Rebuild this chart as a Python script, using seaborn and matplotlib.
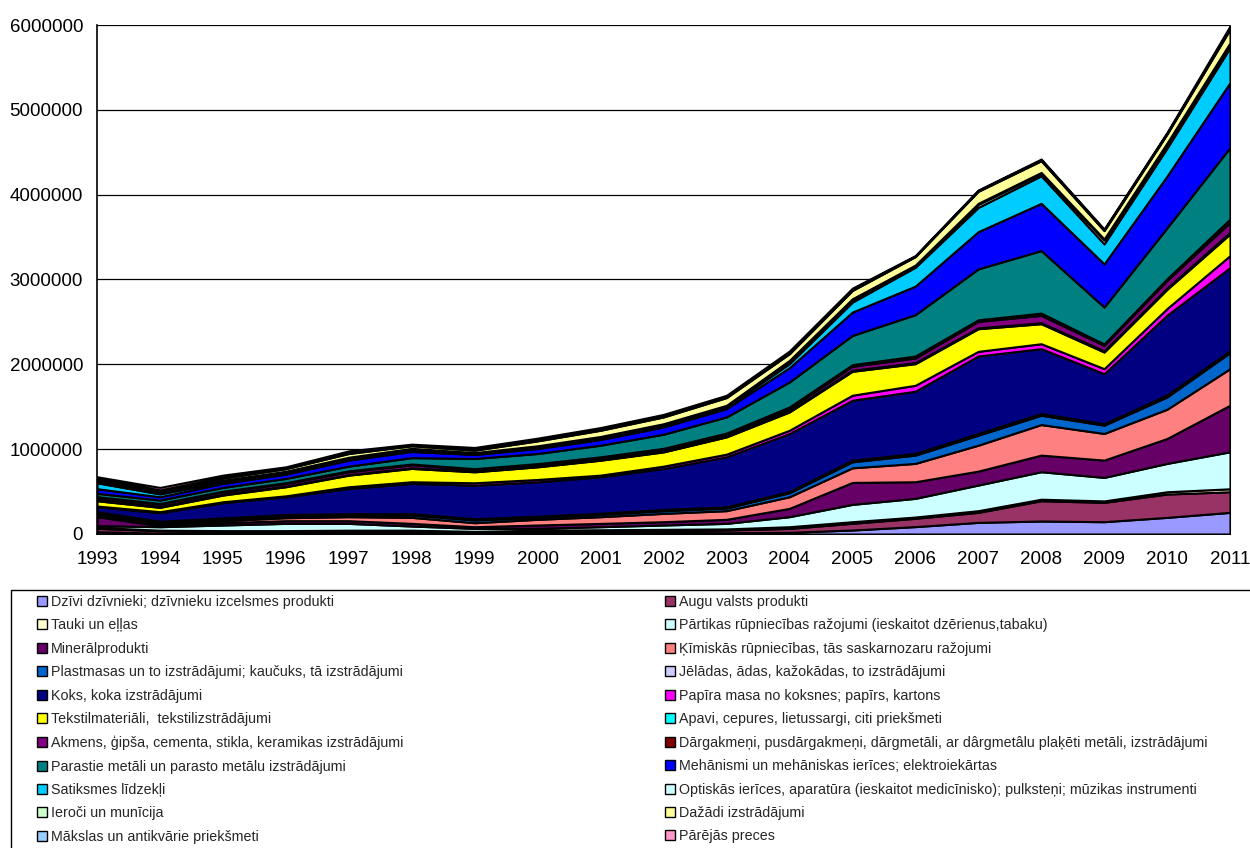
import numpy as np
import matplotlib
matplotlib.use("Agg")
import matplotlib.pyplot as plt
import matplotlib.ticker as mticker
from matplotlib.patches import Patch, Rectangle
import seaborn as sns

sns.set_style("white")
plt.rcParams['font.family'] = ['Liberation Sans', 'DejaVu Sans']

# Years on the x axis
years = list(range(1993, 2012))

# Values per product group (thousands), bottom layer first
dzivi = [27, 10, 10, 10, 10, 10, 8, 10, 10, 20, 15, 20, 47, 87, 137, 153, 145, 196, 255]
augu = [40, 29, 20, 20, 25, 25, 15, 20, 25, 20, 32, 46, 79, 98, 118, 239, 228, 275, 243]
tauki = [11, 6, 10, 10, 10, 10, 8, 15, 15, 15, 13, 20, 19, 15, 20, 18, 17, 27, 35]
partikas = [20, 41, 66, 85, 80, 49, 35, 22, 36, 51, 65, 118, 204, 220, 302, 324, 277, 334, 436]
mineral = [106, 12, 27, 32, 32, 31, 20, 39, 39, 39, 48, 98, 259, 196, 164, 196, 204, 294, 549]
kimiskas = [24, 16, 24, 35, 47, 71, 47, 67, 79, 98, 102, 137, 172, 216, 306, 360, 314, 345, 431]
plastmasas = [15, 19, 16, 20, 20, 28, 32, 23, 27, 31, 31, 47, 71, 98, 118, 110, 98, 145, 189]
jeladas = [20, 17, 17, 18, 16, 16, 15, 14, 14, 16, 14, 14, 19, 20, 20, 20, 17, 24, 22]
koks = [59, 101, 179, 209, 297, 356, 396, 405, 429, 482, 590, 684, 707, 733, 913, 765, 590, 940, 980]
papirs = [8, 12, 11, 11, 20, 20, 28, 28, 20, 28, 31, 39, 59, 70, 55, 58, 59, 78, 142]
tekstil = [62, 51, 79, 107, 137, 157, 129, 149, 176, 168, 204, 216, 282, 255, 267, 236, 196, 227, 255]
apavi = [16, 11, 11, 8, 6, 7, 7, 8, 7, 7, 10, 11, 12, 12, 10, 11, 15, 15, 20]
akmens = [24, 28, 28, 31, 34, 36, 20, 20, 21, 21, 21, 28, 47, 55, 76, 87, 64, 90, 116]
dargakmeni = [8, 7, 7, 9, 11, 9, 10, 10, 12, 14, 14, 20, 19, 23, 19, 27, 16, 20, 40]
metali = [39, 40, 44, 50, 55, 75, 120, 119, 137, 166, 190, 294, 345, 487, 600, 737, 435, 600, 843]
mehanismi = [55, 39, 47, 51, 71, 73, 47, 59, 67, 86, 98, 169, 275, 337, 439, 557, 509, 610, 765]
satiksme = [70, 33, 20, 16, 19, 23, 12, 19, 19, 20, 20, 47, 118, 223, 286, 325, 236, 330, 412]
optiskas = [14, 10, 10, 10, 8, 7, 6, 6, 7, 8, 10, 22, 21, 15, 35, 27, 45, 45, 37]
ieroci = [10, 8, 8, 8, 7, 7, 5, 7, 10, 10, 9, 17, 18, 10, 13, 12, 13, 15, 20]
dazadi = [23, 20, 26, 30, 44, 30, 28, 58, 73, 80, 91, 78, 98, 100, 142, 138, 98, 106, 159]
maksla = [9, 10, 10, 10, 11, 10, 7, 12, 12, 15, 12, 15, 14, 5, 8, 10, 9, 9, 16]
parejas = [15, 29, 24, 12, 20, 9, 25, 20, 20, 15, 15, 17, 13, 7, 7, 10, 10, 10, 23]

labels = [
    "Dzīvi dzīvnieki; dzīvnieku izcelsmes produkti",
    "Augu valsts produkti",
    "Tauki un eļļas",
    "Pārtikas rūpniecības ražojumi (ieskaitot dzērienus,tabaku)",
    "Minerālprodukti",
    "Ķīmiskās rūpniecības, tās saskarnozaru ražojumi",
    "Plastmasas un to izstrādājumi; kaučuks, tā izstrādājumi",
    "Jēlādas, ādas, kažokādas, to izstrādājumi",
    "Koks, koka izstrādājumi",
    "Papīra masa no koksnes; papīrs, kartons",
    "Tekstilmateriāli,  tekstilizstrādājumi",
    "Apavi, cepures, lietussargi, citi priekšmeti",
    "Akmens, ģipša, cementa, stikla, keramikas izstrādājumi",
    "Dārgakmeņi, pusdārgakmeņi, dārgmetāli, ar dârgmetâlu plaķēti metāli, izstrādājumi",
    "Parastie metāli un parasto metālu izstrādājumi",
    "Mehānismi un mehāniskas ierīces; elektroiekārtas",
    "Satiksmes līdzekļi",
    "Optiskās ierīces, aparatūra (ieskaitot medicīnisko); pulksteņi; mūzikas instrumenti",
    "Ieroči un munīcija",
    "Dažādi izstrādājumi",
    "Mākslas un antikvārie priekšmeti",
    "Pārējās preces",
]

colors = [
    "#9999FF", "#993366", "#FFFFCC", "#CCFFFF", "#660066", "#FF8080",
    "#0066CC", "#CCCCFF", "#000080", "#FF00FF", "#FFFF00", "#00FFFF",
    "#800080", "#800000", "#008080", "#0000FF", "#00CCFF", "#CCFFFF",
    "#CCFFCC", "#FFFF99", "#99CCFF", "#FF99CC",
]

series = [dzivi, augu, tauki, partikas, mineral, kimiskas, plastmasas, jeladas,
          koks, papirs, tekstil, apavi, akmens, dargakmeni, metali, mehanismi,
          satiksme, optiskas, ieroci, dazadi, maksla, parejas]
values = np.array(series, dtype=float) * 1000

fig = plt.figure(figsize=(12.5, 8.48), dpi=100)
ax = fig.add_axes([97 / 1250, 1 - 534 / 848, (1230 - 97) / 1250, (534 - 25) / 848])

ax.stackplot(years, values, colors=colors, edgecolor="black", linewidth=1.5, zorder=3)

ax.set_xlim(1993, 2011)
ax.set_ylim(0, 6000000)
ax.set_xticks(years)
ax.set_yticks(range(0, 6000001, 1000000))
ax.yaxis.set_major_formatter(mticker.StrMethodFormatter("{x:.0f}"))
ax.grid(axis="y", color="black", linewidth=0.9, zorder=1)
ax.grid(axis="x", visible=False)
ax.tick_params(axis="both", direction="out", length=5, width=1, color="black",
               labelsize=13.5, labelcolor="black")
ax.tick_params(axis="x", pad=7)
ax.tick_params(axis="y", pad=5)
for side in ["left", "bottom"]:
    ax.spines[side].set_color("black")
    ax.spines[side].set_linewidth(1.2)
ax.spines["right"].set_color("#808080")
ax.spines["top"].set_visible(False)
ax.set_xlabel("")
ax.set_ylabel("")

# Legend: two columns filled row by row, as in the original
handles = [Patch(facecolor=c, edgecolor="black", linewidth=1) for c in colors]
common = dict(frameon=False, fontsize=10.3, handlelength=0.7, handleheight=0.7,
              handletextpad=0.3, labelspacing=0.66, borderpad=0, borderaxespad=0,
              loc="upper left")
fig.legend(handles[0::2], labels[0::2], bbox_to_anchor=(37 / 1250, 1 - 595 / 848), **common)
fig.legend(handles[1::2], labels[1::2], bbox_to_anchor=(665 / 1250, 1 - 595 / 848), **common)
fig.patches.append(Rectangle((11 / 1250, -0.1), 1.2, 1 - 590 / 848 + 0.1,
                             transform=fig.transFigure, fill=False,
                             edgecolor="black", linewidth=1))

fig.savefig("out.png", dpi=100)
